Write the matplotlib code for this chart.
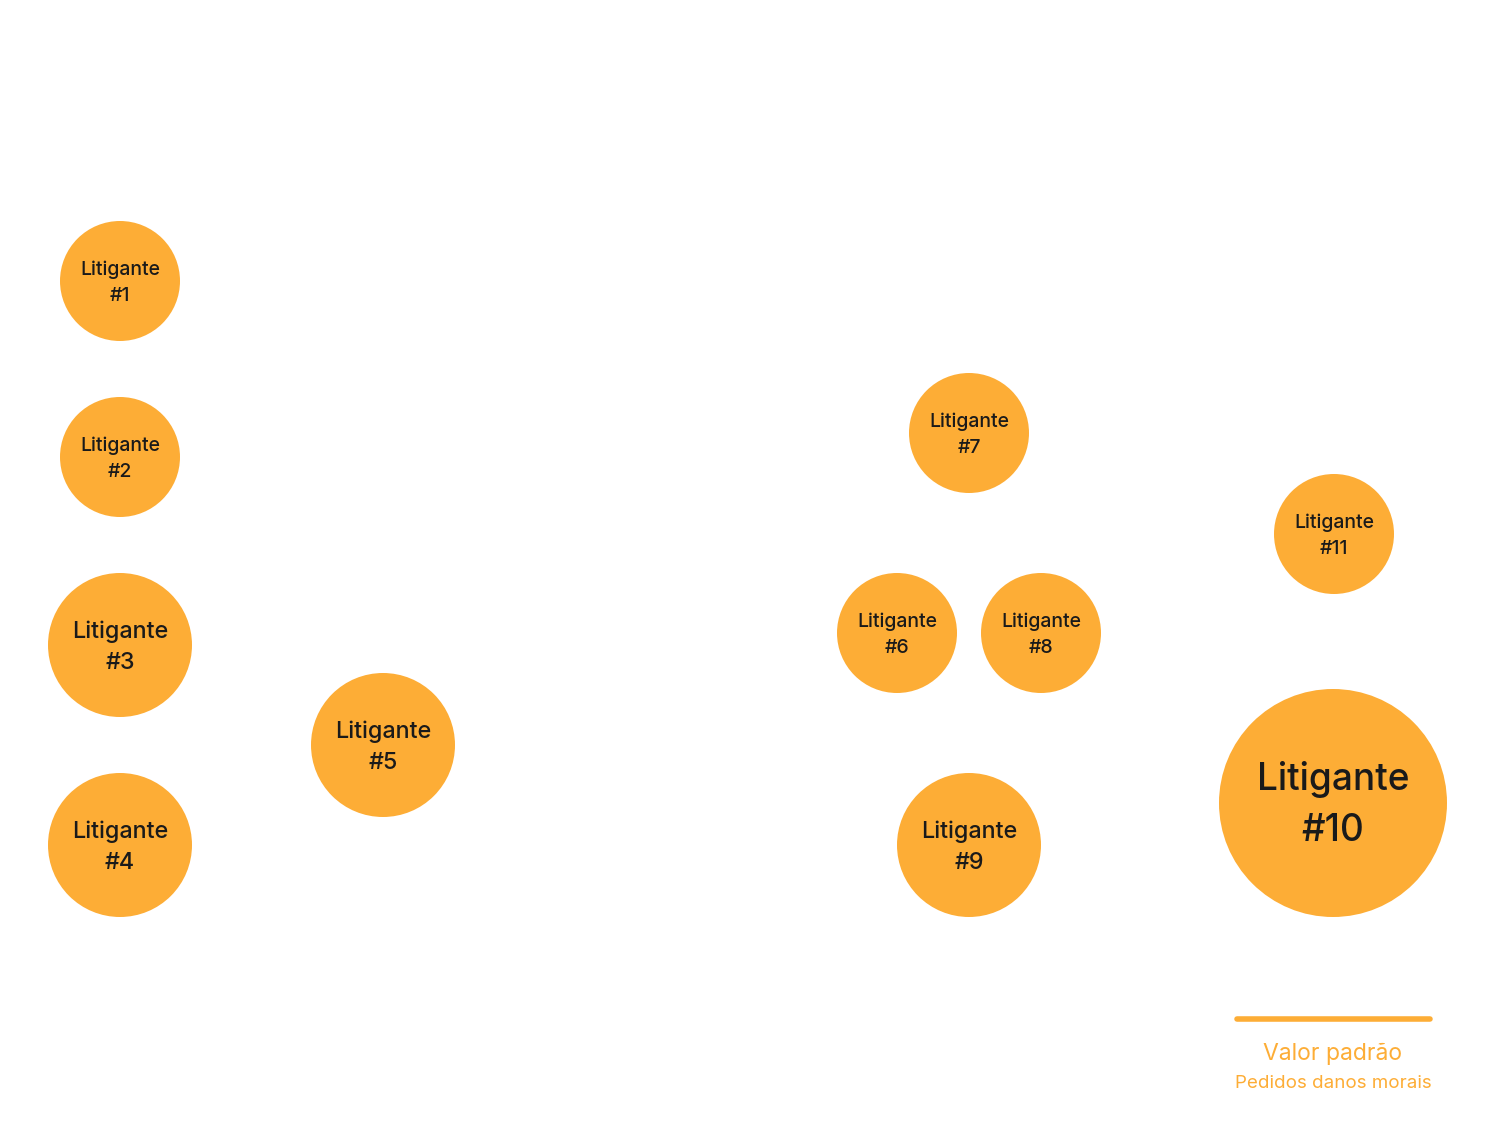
import numpy as np
import matplotlib.pyplot as plt
from matplotlib.patches import Circle

plt.rcParams['font.family'] = ['Inter', 'DejaVu Sans']

nomes = ['Litigante\n#1', 'Litigante\n#2', 'Litigante\n#3', 'Litigante\n#4', 'Litigante\n#5',
         'Litigante\n#6', 'Litigante\n#7', 'Litigante\n#8', 'Litigante\n#9', 'Litigante\n#10',
         'Litigante\n#11']
x = [120, 120, 120, 120, 383, 897, 969, 1041, 969, 1333, 1334]
y = [281, 457, 645, 845, 745, 633, 433, 633, 845, 803, 534]
valor = [1.0, 1.0, 1.44, 1.44, 1.44, 1.0, 1.0, 1.0, 1.44, 3.61, 1.0]

laranja = '#fdad36'
fig = plt.figure(figsize=(14.98, 11.4), dpi=100)
ax = fig.add_axes([0, 0, 1, 1])
ax.set_xlim(0, 1498)
ax.set_ylim(1140, 0)
ax.axis('off')

for xi, yi, v, nome in zip(x, y, valor, nomes):
    r = 60 * np.sqrt(v)
    fs = 14 * r / 60
    ax.add_patch(Circle((xi, yi), r, color=laranja, lw=0))
    ax.text(xi, yi + 2, nome, ha='center', va='center', fontsize=fs,
            color='#1a1a1a', linespacing=1.55, fontweight='medium')

# legenda
ax.plot([1237, 1430], [1019, 1019], color=laranja, lw=4, solid_capstyle='round')
ax.text(1333, 1054, 'Valor padrão', ha='center', va='center', fontsize=16.5, color=laranja)
ax.text(1333, 1083, 'Pedidos danos morais', ha='center', va='center', fontsize=13.5, color=laranja)

plt.savefig('out.png', dpi=100)
